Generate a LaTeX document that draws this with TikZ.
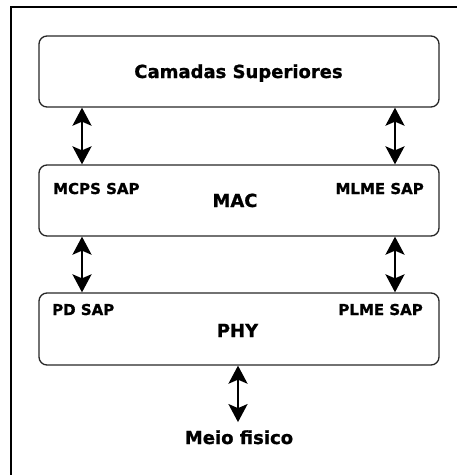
\documentclass[tikz,border=0pt]{standalone}
\usepackage{fontspec}
\setmainfont{DejaVu Sans}[BoldFeatures={FakeBold=1}]
\usetikzlibrary{arrows.meta}
\begin{document}
\begin{tikzpicture}[x=1pt,y=-1pt,
  layer/.style={draw=black!85,line width=1.3pt,rounded corners=8pt,minimum width=400pt,inner sep=0pt},
  big/.style={font=\fontsize{18}{21}\selectfont\bfseries,inner sep=0pt},
  sap/.style={font=\fontsize{15}{18}\selectfont\bfseries,inner sep=0pt},
  link/.style={line width=2.4pt,{Stealth[length=18pt,width=19pt,inset=4pt]}-{Stealth[length=18pt,width=19pt,inset=4pt]}}]
\useasboundingbox (0,0) rectangle (457,475);
\draw[line width=1.5pt] (11,475) -- (11,7) -- (457,7);
% layers
\node[layer,minimum height=71pt] (cam) at (239,71.5) {};
\node[layer,minimum height=71pt] (mac) at (239,200.5) {};
\node[layer,minimum height=72pt] (phy) at (239,329) {};
% texts
\node[big,anchor=base] (camt) at (238.5,78) {Camadas Superiores};
\node[big,anchor=base] (mact) at (235,207) {MAC};
\node[big,anchor=base] (phyt) at (237.5,337) {PHY};
\node[sap,anchor=base west] (mcps) at (53,194) {MCPS SAP};
\node[sap,anchor=base east] (mlme) at (424,194) {MLME SAP};
\node[sap,anchor=base west] (pd) at (52,315) {PD SAP};
\node[sap,anchor=base east] (plme) at (423,315) {PLME SAP};
\node[big,anchor=base] (meio) at (239,444) {Meio fisico};
% connectors
\draw[link] ([xshift=-157pt]cam.south) -- ([xshift=-157pt]mac.north);
\draw[link] ([xshift=156pt]cam.south) -- ([xshift=156pt]mac.north);
\draw[link] ([xshift=-157pt]mac.south) -- ([xshift=-157pt]phy.north);
\draw[link] ([xshift=156pt]mac.south) -- ([xshift=156pt]phy.north);
\draw[link,shorten >=8pt] ([xshift=-1pt]phy.south) -- ([xshift=-1pt]meio.north);
\end{tikzpicture}
\end{document}
